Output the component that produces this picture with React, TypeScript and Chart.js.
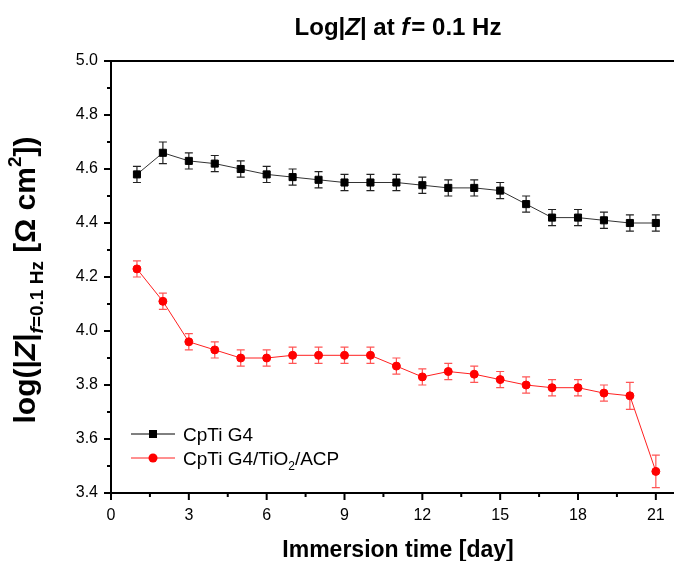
import React, { useEffect, useRef } from "react";
import { Chart, registerables } from "chart.js";

Chart.register(...registerables);

const days = [1, 2, 3, 4, 5, 6, 7, 8, 9, 10, 11, 12, 13, 14, 15, 16, 17, 18, 19, 20, 21];
const cptiG4 = [4.58, 4.66, 4.63, 4.62, 4.6, 4.58, 4.57, 4.56, 4.55, 4.55, 4.55, 4.54, 4.53, 4.53, 4.52, 4.47, 4.42, 4.42, 4.41, 4.4, 4.4];
const cptiG4Err = [0.03, 0.04, 0.03, 0.03, 0.03, 0.03, 0.03, 0.03, 0.03, 0.03, 0.03, 0.03, 0.03, 0.03, 0.03, 0.03, 0.03, 0.03, 0.03, 0.03, 0.03];
const cptiCoated = [4.23, 4.11, 3.96, 3.93, 3.9, 3.9, 3.91, 3.91, 3.91, 3.91, 3.87, 3.83, 3.85, 3.84, 3.82, 3.8, 3.79, 3.79, 3.77, 3.76, 3.48];
const cptiCoatedErr = [0.03, 0.03, 0.03, 0.03, 0.03, 0.03, 0.03, 0.03, 0.03, 0.03, 0.03, 0.03, 0.03, 0.03, 0.03, 0.03, 0.03, 0.03, 0.03, 0.05, 0.06];

const xTicks = [0, 3, 6, 9, 12, 15, 18, 21];
const xMinorTicks = [1.5, 4.5, 7.5, 10.5, 13.5, 16.5, 19.5];
const yTicks = [3.4, 3.6, 3.8, 4.0, 4.2, 4.4, 4.6, 4.8, 5.0];
const yMinorTicks = [3.5, 3.7, 3.9, 4.1, 4.3, 4.5, 4.7, 4.9];

const seriesLabels = ["CpTi G4", "CpTi G4/TiO2/ACP"];
const errors = [cptiG4Err, cptiCoatedErr];
const errColors = ["#222222", "#ff5555"];

const FF = "'Liberation Sans', Arial, sans-serif";

type Seg = { t: string; font: string; dy?: number; gap?: number };

function drawRich(ctx: CanvasRenderingContext2D, segs: Seg[], cx: number, cy: number, rotate: boolean, align: "center" | "left" = "center") {
  ctx.save();
  ctx.translate(cx, cy);
  if (rotate) ctx.rotate(-Math.PI / 2);
  ctx.textBaseline = "alphabetic";
  ctx.textAlign = "left";
  ctx.fillStyle = "#000";
  let w = 0;
  for (const s of segs) {
    ctx.font = s.font;
    w += ctx.measureText(s.t).width + (s.gap || 0);
  }
  let x = align === "center" ? -w / 2 : 0;
  for (const s of segs) {
    ctx.font = s.font;
    ctx.fillText(s.t, x, s.dy || 0);
    x += ctx.measureText(s.t).width + (s.gap || 0);
  }
  ctx.restore();
}

const decorPlugin = {
  id: "decor",
  beforeDatasetsDraw(chart: any) {
    const ctx: CanvasRenderingContext2D = chart.ctx;
    const xs = chart.scales.x;
    const ys = chart.scales.y;
    ctx.save();
    errors.forEach((errArr, di) => {
      const ds = chart.data.datasets[di];
      ctx.strokeStyle = errColors[di];
      ctx.lineWidth = 1.2;
      ds.data.forEach((p: any, i: number) => {
        const x = xs.getPixelForValue(p.x);
        const y1 = ys.getPixelForValue(p.y + errArr[i]);
        const y2 = ys.getPixelForValue(p.y - errArr[i]);
        ctx.beginPath();
        ctx.moveTo(x, y1);
        ctx.lineTo(x, y2);
        ctx.moveTo(x - 4, y1);
        ctx.lineTo(x + 4, y1);
        ctx.moveTo(x - 4, y2);
        ctx.lineTo(x + 4, y2);
        ctx.stroke();
      });
    });
    ctx.restore();
  },
  afterDraw(chart: any) {
    const ctx: CanvasRenderingContext2D = chart.ctx;
    const a = chart.chartArea;
    const xs = chart.scales.x;
    const ys = chart.scales.y;
    ctx.save();
    ctx.strokeStyle = "#000";
    // frame
    ctx.lineWidth = 2;
    ctx.beginPath();
    ctx.moveTo(a.left, a.top);
    ctx.lineTo(a.right, a.top);
    ctx.moveTo(a.left, a.top - 1);
    ctx.lineTo(a.left, a.bottom + 1);
    ctx.moveTo(a.left - 1, a.bottom);
    ctx.lineTo(a.right, a.bottom);
    ctx.stroke();
    // major ticks
    ctx.beginPath();
    xTicks.forEach((v) => {
      const x = xs.getPixelForValue(v);
      ctx.moveTo(x, a.bottom);
      ctx.lineTo(x, a.bottom + 7);
    });
    yTicks.forEach((v) => {
      const y = ys.getPixelForValue(v);
      ctx.moveTo(a.left, y);
      ctx.lineTo(a.left - 7, y);
    });
    ctx.stroke();
    // minor ticks
    ctx.beginPath();
    xMinorTicks.forEach((v) => {
      const x = xs.getPixelForValue(v);
      ctx.moveTo(x, a.bottom);
      ctx.lineTo(x, a.bottom + 4);
    });
    yMinorTicks.forEach((v) => {
      const y = ys.getPixelForValue(v);
      ctx.moveTo(a.left, y);
      ctx.lineTo(a.left - 4, y);
    });
    ctx.stroke();
    ctx.restore();

    // Title
    const B = (s: number) => `bold ${s}px ${FF}`;
    const BI = (s: number) => `italic bold ${s}px ${FF}`;
    drawRich(ctx, [
      { t: "Log|", font: B(24) },
      { t: "Z", font: BI(24) },
      { t: "| at ", font: B(24) },
      { t: "f", font: BI(24), gap: 2 },
      { t: "= 0.1 Hz", font: B(24) },
    ], 398, 35, false);

    // X title
    drawRich(ctx, [{ t: "Immersion time [day]", font: B(23) }], 398, 557, false);

    // Y title
    drawRich(ctx, [
      { t: "log(|", font: B(30) },
      { t: "Z", font: BI(30) },
      { t: "|", font: B(30) },
      { t: "f", font: BI(19), dy: 8 },
      { t: "=0.1 Hz", font: B(19), dy: 8 },
      { t: " [Ω cm", font: B(30) },
      { t: "2", font: B(19), dy: -14 },
      { t: "])", font: B(30) },
    ], 35, 280, true);

    // Legend
    const lx1 = 131, lx2 = 175, tx = 183;
    const rows = [434, 458];
    chart.data.datasets.forEach((ds: any, i: number) => {
      const y = rows[i];
      ctx.save();
      ctx.strokeStyle = i === 0 ? "#000" : ds.borderColor;
      ctx.lineWidth = 1;
      ctx.beginPath();
      ctx.moveTo(lx1, y);
      ctx.lineTo(lx2, y);
      ctx.stroke();
      ctx.fillStyle = ds.pointBackgroundColor;
      const mx = (lx1 + lx2) / 2;
      if (ds.pointStyle === "rect") {
        ctx.fillRect(mx - 4, y - 4, 8, 8);
      } else {
        ctx.beginPath();
        ctx.arc(mx, y, 4.5, 0, Math.PI * 2);
        ctx.fill();
      }
      ctx.restore();
    });
    const R = (s: number) => `${s}px ${FF}`;
    drawRich(ctx, [{ t: seriesLabels[0], font: R(19) }], tx, rows[0] + 7, false, "left");
    drawRich(ctx, [
      { t: "CpTi G4/TiO", font: R(19) },
      { t: "2", font: R(12), dy: 5 },
      { t: "/ACP", font: R(19) },
    ], tx, rows[1] + 7, false, "left");
  },
};

export default function App() {
  const ref = useRef<HTMLCanvasElement | null>(null);
  useEffect(() => {
    if (!ref.current) return;
    const chart = new Chart(ref.current, {
      type: "line",
      data: {
        datasets: [
          {
            label: seriesLabels[0],
            data: days.map((d, i) => ({ x: d, y: cptiG4[i] })),
            borderColor: "#333333",
            borderWidth: 1,
            pointStyle: "rect",
            pointRadius: 5,
            pointBorderWidth: 1,
            pointBackgroundColor: "#000000",
            pointBorderColor: "#000000",
            tension: 0,
          },
          {
            label: seriesLabels[1],
            data: days.map((d, i) => ({ x: d, y: cptiCoated[i] })),
            borderColor: "#ff2020",
            borderWidth: 1,
            pointStyle: "circle",
            pointRadius: 4,
            pointBorderWidth: 1,
            pointBackgroundColor: "#ff0000",
            pointBorderColor: "#ff0000",
            tension: 0,
          },
        ],
      },
      options: {
        animation: false,
        responsive: true,
        maintainAspectRatio: false,
        layout: { padding: { top: 61, left: 0, right: 0, bottom: 0 } },
        plugins: { legend: { display: false }, title: { display: false }, tooltip: { enabled: false } },
        scales: {
          x: {
            type: "linear",
            min: 0,
            max: 21.7,
            afterBuildTicks: (scale: any) => {
              scale.ticks = xTicks.map((v) => ({ value: v }));
            },
            afterFit: (scale: any) => {
              scale.height = 68;
            },
            grid: { display: true, drawOnChartArea: false, drawTicks: true, tickLength: 7, color: "rgba(0,0,0,0)" },
            border: { display: false },
            ticks: { autoSkip: false, maxRotation: 0, padding: 6, color: "#000", font: { family: FF, size: 16 } },
          },
          y: {
            type: "linear",
            min: 3.4,
            max: 5.0,
            afterBuildTicks: (scale: any) => {
              scale.ticks = yTicks.map((v) => ({ value: v }));
            },
            afterFit: (scale: any) => {
              scale.width = 111;
            },
            grid: { display: true, drawOnChartArea: false, drawTicks: true, tickLength: 7, color: "rgba(0,0,0,0)" },
            border: { display: false },
            ticks: {
              autoSkip: false,
              padding: 6,
              color: "#000",
              font: { family: FF, size: 16 },
              callback: (v: any) => Number(v).toFixed(1),
            },
          },
        },
      },
      plugins: [decorPlugin],
    } as any);
    return () => chart.destroy();
  }, []);
  return (
    <div style={{ position: "absolute", left: 0, top: 0, width: 680, height: 561, background: "#fff" }}>
      <canvas ref={ref} />
    </div>
  );
}
